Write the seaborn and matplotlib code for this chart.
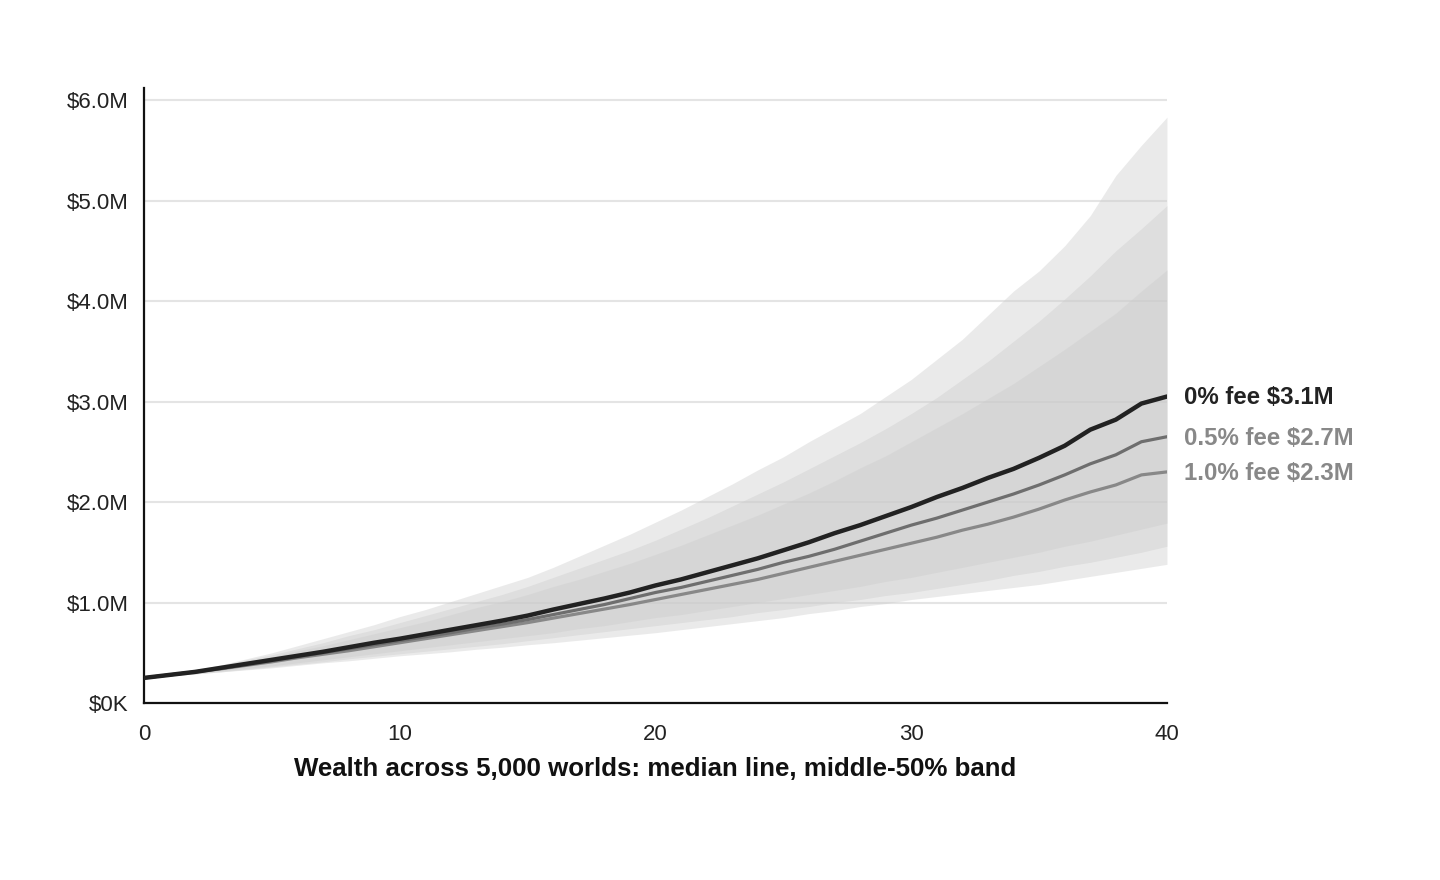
import matplotlib
matplotlib.use("Agg")
import matplotlib.pyplot as plt
import pandas as pd
import seaborn as sns

# Years since start
years = list(range(0, 41))

# Median wealth per fee level (in $M)
median_0 = [0.25, 0.28, 0.31, 0.35, 0.39, 0.43, 0.47, 0.51, 0.555, 0.60,
            0.64, 0.685, 0.73, 0.775, 0.82, 0.87, 0.93, 0.985, 1.04, 1.10,
            1.17, 1.23, 1.30, 1.37, 1.44, 1.52, 1.60, 1.69, 1.77, 1.86,
            1.95, 2.05, 2.14, 2.24, 2.33, 2.44, 2.56, 2.72, 2.82, 2.98, 3.05]
median_05 = [0.25, 0.28, 0.31, 0.345, 0.38, 0.42, 0.46, 0.50, 0.54, 0.58,
             0.62, 0.66, 0.70, 0.745, 0.785, 0.83, 0.88, 0.93, 0.98, 1.04,
             1.10, 1.15, 1.21, 1.27, 1.33, 1.40, 1.46, 1.53, 1.61, 1.69,
             1.77, 1.84, 1.92, 2.00, 2.08, 2.17, 2.27, 2.38, 2.47, 2.60, 2.65]
median_10 = [0.25, 0.28, 0.31, 0.34, 0.375, 0.41, 0.45, 0.485, 0.52, 0.56,
             0.60, 0.64, 0.68, 0.72, 0.76, 0.80, 0.845, 0.89, 0.935, 0.98,
             1.03, 1.08, 1.13, 1.18, 1.23, 1.29, 1.35, 1.41, 1.47, 1.53,
             1.59, 1.65, 1.72, 1.78, 1.85, 1.93, 2.02, 2.10, 2.17, 2.27, 2.30]

# 75th percentile
upper_0 = [0.25, 0.29, 0.33, 0.38, 0.44, 0.50, 0.57, 0.64, 0.71, 0.78,
           0.86, 0.93, 1.01, 1.09, 1.17, 1.25, 1.35, 1.46, 1.57, 1.68,
           1.80, 1.92, 2.05, 2.18, 2.32, 2.45, 2.60, 2.74, 2.88, 3.05,
           3.22, 3.42, 3.62, 3.86, 4.10, 4.30, 4.55, 4.85, 5.25, 5.55, 5.83]
upper_05 = [0.25, 0.29, 0.33, 0.375, 0.43, 0.48, 0.54, 0.60, 0.67, 0.73,
            0.80, 0.87, 0.94, 1.01, 1.08, 1.16, 1.25, 1.34, 1.43, 1.52,
            1.62, 1.73, 1.84, 1.96, 2.08, 2.20, 2.33, 2.46, 2.59, 2.73,
            2.88, 3.04, 3.22, 3.40, 3.60, 3.80, 4.02, 4.25, 4.50, 4.72, 4.95]
upper_10 = [0.25, 0.285, 0.32, 0.37, 0.415, 0.46, 0.52, 0.57, 0.63, 0.69,
            0.75, 0.81, 0.88, 0.95, 1.01, 1.08, 1.16, 1.23, 1.31, 1.39,
            1.48, 1.57, 1.67, 1.77, 1.87, 1.98, 2.09, 2.21, 2.34, 2.46,
            2.60, 2.74, 2.88, 3.03, 3.18, 3.35, 3.52, 3.70, 3.88, 4.10, 4.31]

# 25th percentile
lower_0 = [0.25, 0.27, 0.29, 0.32, 0.345, 0.37, 0.40, 0.43, 0.46, 0.49,
           0.52, 0.55, 0.58, 0.61, 0.64, 0.67, 0.70, 0.74, 0.77, 0.81,
           0.85, 0.88, 0.92, 0.96, 1.00, 1.04, 1.08, 1.12, 1.16, 1.21,
           1.25, 1.30, 1.35, 1.40, 1.45, 1.50, 1.56, 1.61, 1.67, 1.73, 1.79]
lower_05 = [0.25, 0.27, 0.29, 0.31, 0.335, 0.36, 0.385, 0.41, 0.44, 0.465,
            0.49, 0.515, 0.54, 0.565, 0.59, 0.62, 0.65, 0.68, 0.71, 0.74,
            0.77, 0.80, 0.83, 0.86, 0.90, 0.93, 0.96, 1.00, 1.03, 1.07,
            1.10, 1.14, 1.18, 1.22, 1.27, 1.31, 1.36, 1.40, 1.45, 1.50, 1.56]
lower_10 = [0.25, 0.27, 0.29, 0.31, 0.33, 0.35, 0.375, 0.40, 0.42, 0.445,
            0.47, 0.49, 0.51, 0.535, 0.555, 0.58, 0.60, 0.625, 0.65, 0.675,
            0.70, 0.73, 0.76, 0.79, 0.82, 0.85, 0.89, 0.92, 0.96, 0.99,
            1.03, 1.06, 1.09, 1.12, 1.15, 1.18, 1.22, 1.26, 1.30, 1.34, 1.38]

fee_names = ["0% fee", "0.5% fee", "1.0% fee"]
end_labels = ["0% fee $3.1M", "0.5% fee $2.7M", "1.0% fee $2.3M"]
y_ticks = [0, 1, 2, 3, 4, 5, 6]
y_tick_labels = ["$0K", "$1.0M", "$2.0M", "$3.0M", "$4.0M", "$5.0M", "$6.0M"]
x_ticks = [0, 10, 20, 30, 40]

medians = [median_0, median_05, median_10]
uppers = [upper_0, upper_05, upper_10]
lowers = [lower_0, lower_05, lower_10]
line_colors = ["#222222", "#6e6e6e", "#888888"]
label_colors = ["#222222", "#888888", "#888888"]
line_widths = [3.2, 2.3, 2.3]

# long table for seaborn
rows = []
for name, med in zip(fee_names, medians):
    for yr, v in zip(years, med):
        rows.append({"year": yr, "wealth": v * 1e6, "fee": name})
df = pd.DataFrame(rows)

sns.set_theme(style="white")
plt.rcParams['font.family'] = ['Liberation Sans', 'DejaVu Sans']

fig, ax = plt.subplots(figsize=(14.4, 8.8), dpi=100)
fig.subplots_adjust(left=0.1, right=0.8104, bottom=0.2011, top=0.9)

# grid first, bands on top with alpha
ax.set_axisbelow(True)
ax.yaxis.grid(True, color="#e4e4e4", linewidth=1.5)
ax.xaxis.grid(False)

# bands: middle 50%
for lo, hi in zip(lowers, uppers):
    ax.fill_between(years, [v * 1e6 for v in lo], [v * 1e6 for v in hi],
                    color="#cccccc", alpha=0.4, linewidth=0, zorder=1)

# median lines, 0% drawn last so it sits on top
for name, col, lw in reversed(list(zip(fee_names, line_colors, line_widths))):
    sns.lineplot(data=df[df["fee"] == name], x="year", y="wealth",
                 color=col, linewidth=lw, ax=ax, legend=False, zorder=3)

# end labels
for med, text, col in zip(medians, end_labels, label_colors):
    ax.annotate(text, xy=(years[-1], med[-1] * 1e6), xytext=(12, -1),
                textcoords="offset points", va="center", ha="left",
                fontsize=17.3, fontweight="bold", color=col,
                annotation_clip=False)

ax.set_xlim(0, 40)
ax.set_ylim(0, 6.12e6)
ax.set_xticks(x_ticks)
ax.set_xticklabels([str(t) for t in x_ticks])
ax.set_yticks([t * 1e6 for t in y_ticks])
ax.set_yticklabels(y_tick_labels)
ax.tick_params(axis="both", length=0, labelsize=16, labelcolor="#222222")
ax.tick_params(axis="y", pad=11)
ax.tick_params(axis="x", pad=15)

ax.set_ylabel("")
ax.set_xlabel("Wealth across 5,000 worlds: median line, middle-50% band",
              fontsize=18.6, fontweight="bold", color="#111111", labelpad=9)

for side in ["top", "right"]:
    ax.spines[side].set_visible(False)
for side in ["left", "bottom"]:
    ax.spines[side].set_color("#111111")
    ax.spines[side].set_linewidth(1.6)

fig.savefig("out.png", dpi=100)
